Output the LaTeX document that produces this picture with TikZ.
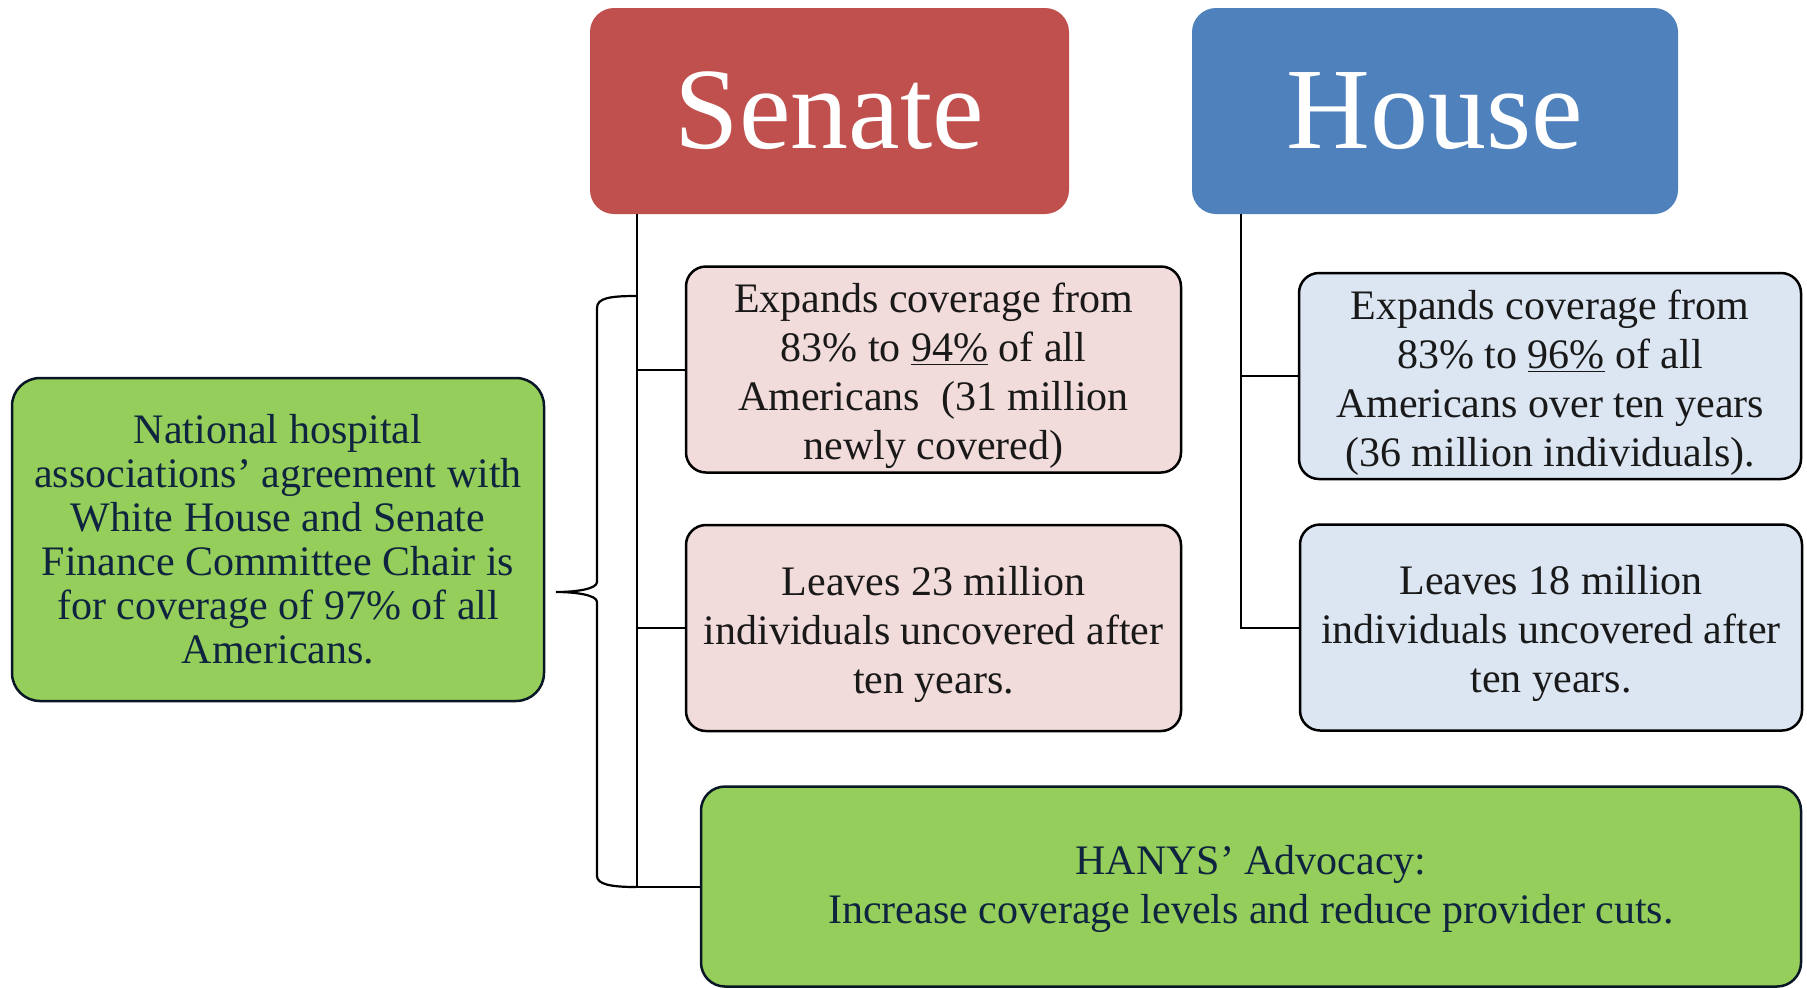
\documentclass[tikz,border=0pt]{standalone}
\usepackage{fontspec}
\setmainfont{Liberation Serif}
\usepackage{xcolor}

\definecolor{senatered}{HTML}{C0504D}
\definecolor{houseblue}{HTML}{4F81BD}
\definecolor{senatepink}{HTML}{F2DCDB}
\definecolor{houselight}{HTML}{DCE6F2}
\definecolor{hanysgreen}{HTML}{95CE5A}
\definecolor{hanysnavy}{HTML}{0F243E}

\newcommand{\topgap}{\rule{0pt}{21pt}}

\tikzset{
  chamber/.style={rounded corners=12pt, inner sep=0pt, minimum height=103pt,
    text=white, font=\fontsize{58}{60}\selectfont},
  billbox/.style={draw=black, line width=1.25pt, rounded corners=10pt, inner sep=0pt,
    align=center, minimum height=103pt, text=black!90,
    font=\fontsize{21}{24.5}\selectfont},
  greenbox/.style={draw=hanysnavy!60!black, line width=1.25pt, rounded corners=14pt,
    inner sep=0pt, align=center, fill=hanysgreen, text=hanysnavy},
  link/.style={line width=1pt}
}

\begin{document}
\begin{tikzpicture}[x=0.5pt,y=-0.5pt]

\useasboundingbox (0,0) rectangle (1807,987);

% chambers
\node[chamber, fill=senatered, minimum width=239.5pt] (senate) at (829.5,111) {Senate};
\node[chamber, fill=houseblue, minimum width=243pt] (house) at (1435,111) {House};

% senate bill
\node[billbox, fill=senatepink, minimum width=247.5pt] (scover) at (933.5,369.5)
  {\topgap Expands coverage from\\ 83\% to \underline{94\%} of all\\ Americans~ (31 million\\ newly covered)};
\node[billbox, fill=senatepink, minimum width=247.5pt] (sleft) at (933.5,628)
  {\topgap Leaves 23 million\\ individuals uncovered after\\ ten years.};

% house bill
\node[billbox, fill=houselight, minimum width=251pt] (hcover) at (1550,376)
  {\topgap Expands coverage from\\ 83\% to \underline{96\%} of all\\ Americans over ten years\\ (36 million individuals).};
\node[billbox, fill=houselight, minimum width=251pt] (hleft) at (1551,627.5)
  {\topgap Leaves 18 million\\ individuals uncovered after\\ ten years.};

% agreement and advocacy
\node[greenbox, minimum width=266pt, minimum height=161.5pt, font=\fontsize{21}{22}\selectfont]
  (deal) at (278,539.5)
  {National hospital\\ associations’ agreement with\\ White House and Senate\\ Finance Committee Chair is\\ for coverage of 97\% of all\\ Americans.};
\node[greenbox, rounded corners=12pt, minimum width=550pt, minimum height=100pt,
  font=\fontsize{21}{24.7}\selectfont] (hanys) at (1251,886.5)
  {\rule{0pt}{17pt}HANYS’ Advocacy:\\ Increase coverage levels and reduce provider cuts.};

% trunks
\coordinate (strunk) at (637,886.5);
\coordinate (htrunk) at (1241,627.5);
\draw[link] (senate.south -| strunk) |- (hanys.west);
\draw[link] (scover.west) -- (scover.west -| strunk);
\draw[link] (sleft.west) -- (sleft.west -| strunk);
\draw[link] (house.south -| htrunk) |- (hleft.west);
\draw[link] (hcover.west) -- (hcover.west -| htrunk);

% brace
\draw[line width=1.1pt] (636,296) .. controls (610,296) and (597,298) .. (597,308)
  -- (597,582) .. controls (597,589) and (576,592) .. (556,592)
  .. controls (576,592) and (597,595) .. (597,602)
  -- (597,876) .. controls (597,884) and (610,887) .. (636,887);

\end{tikzpicture}
\end{document}
